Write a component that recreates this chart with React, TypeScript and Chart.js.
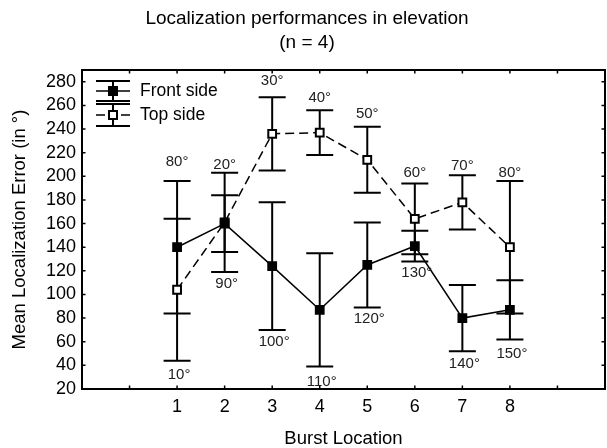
import { useEffect, useRef } from 'react';
import { Chart, registerables } from 'chart.js';

Chart.register(...registerables);

const categories = [1, 2, 3, 4, 5, 6, 7, 8];
const frontMean = [140, 160, 124, 87, 125, 141, 80, 87];
const frontErr = [56, 24, 54, 48, 36, 13, 28, 25];
const topMean = [104, 161, 236, 237, 214, 164, 178, 140];
const topErr = [60, 42, 31, 19, 28, 30, 23, 56];

const upperLabels = ['80°', '20°', '30°', '40°', '50°', '60°', '70°', '80°'];
const lowerLabels = ['10°', '90°', '100°', '110°', '120°', '130°', '140°', '150°'];
const upperLabelY = [212, 210, 281, 266, 253, 203, 209, 203];
const lowerLabelY = [32, 109, 60, 26, 79, 118, 41, 50];

const xTickLabels = [1, 2, 3, 4, 5, 6, 7, 8];
const xTickMarks = [0, 1, 2, 3, 4, 5, 6, 7, 8, 9];
const yTickValues = [20, 40, 60, 80, 100, 120, 140, 160, 180, 200, 220, 240, 260, 280];

const FONT = "'Liberation Sans', Arial, Helvetica, sans-serif";

const zeroPadding = () => ({ left: 0, right: 0, top: 0, bottom: 0 });

const errorBarPlugin = {
  id: 'errorBars',
  beforeDatasetsDraw(chart: any) {
    const { ctx, scales } = chart;
    const xs = scales.x;
    const ys = scales.y;
    const series = [
      { mean: frontMean, err: frontErr },
      { mean: topMean, err: topErr },
    ];
    ctx.save();
    ctx.strokeStyle = '#000';
    ctx.lineWidth = 2;
    ctx.setLineDash([]);
    const half = 13.5;
    series.forEach((s) => {
      categories.forEach((c, i) => {
        const x = xs.getPixelForValue(c);
        const y1 = ys.getPixelForValue(s.mean[i] + s.err[i]);
        const y2 = ys.getPixelForValue(s.mean[i] - s.err[i]);
        ctx.beginPath();
        ctx.moveTo(x, y1);
        ctx.lineTo(x, y2);
        ctx.moveTo(x - half, y1);
        ctx.lineTo(x + half, y1);
        ctx.moveTo(x - half, y2);
        ctx.lineTo(x + half, y2);
        ctx.stroke();
      });
    });
    ctx.restore();
  },
};

const annotationPlugin = {
  id: 'degreeLabels',
  afterDatasetsDraw(chart: any) {
    const { ctx, scales } = chart;
    ctx.save();
    ctx.fillStyle = '#222';
    ctx.font = `15px ${FONT}`;
    ctx.textAlign = 'center';
    ctx.textBaseline = 'middle';
    categories.forEach((c, i) => {
      const x = scales.x.getPixelForValue(c);
      ctx.fillText(upperLabels[i], x, scales.y.getPixelForValue(upperLabelY[i]));
      ctx.fillText(lowerLabels[i], x + 2, scales.y.getPixelForValue(lowerLabelY[i]));
    });
    ctx.restore();
  },
};

const framePlugin = {
  id: 'frame',
  afterDraw(chart: any) {
    const { ctx, chartArea, scales } = chart;
    const { left, right, top, bottom } = chartArea;
    ctx.save();
    ctx.strokeStyle = '#000';
    ctx.setLineDash([]);
    ctx.lineWidth = 1.5;
    const tl = 3.5;
    ctx.beginPath();
    xTickMarks.forEach((v) => {
      const x = scales.x.getPixelForValue(v);
      ctx.moveTo(x, bottom);
      ctx.lineTo(x, bottom - tl);
      ctx.moveTo(x, top);
      ctx.lineTo(x, top + tl);
    });
    yTickValues.forEach((v) => {
      const y = scales.y.getPixelForValue(v);
      ctx.moveTo(left, y);
      ctx.lineTo(left + tl, y);
      ctx.moveTo(right, y);
      ctx.lineTo(right - tl, y);
    });
    ctx.stroke();
    ctx.lineWidth = 2;
    ctx.strokeRect(left, top, right - left, bottom - top);
    ctx.restore();
  },
};

const legendPlugin = {
  id: 'customLegend',
  afterDraw(chart: any) {
    const { ctx, chartArea } = chart;
    const cx = chartArea.left + 31;
    const half = 17;
    const entries = [
      { label: 'Front side', y: chartArea.top + 21, err: 10, fill: '#000', dashed: false },
      { label: 'Top side', y: chartArea.top + 45, err: 11, fill: '#fff', dashed: true },
    ];
    ctx.save();
    entries.forEach((e) => {
      ctx.strokeStyle = '#000';
      ctx.lineWidth = 2;
      ctx.setLineDash([]);
      ctx.beginPath();
      ctx.moveTo(cx, e.y - e.err);
      ctx.lineTo(cx, e.y + e.err);
      ctx.moveTo(cx - half, e.y - e.err);
      ctx.lineTo(cx + half, e.y - e.err);
      ctx.moveTo(cx - half, e.y + e.err);
      ctx.lineTo(cx + half, e.y + e.err);
      ctx.stroke();
      ctx.lineWidth = 1.5;
      ctx.beginPath();
      if (e.dashed) {
        ctx.moveTo(cx - half, e.y);
        ctx.lineTo(cx - 8, e.y);
        ctx.moveTo(cx + 8, e.y);
        ctx.lineTo(cx + half, e.y);
      } else {
        ctx.moveTo(cx - half, e.y);
        ctx.lineTo(cx + half, e.y);
      }
      ctx.stroke();
      ctx.fillStyle = e.fill;
      ctx.lineWidth = 2;
      ctx.fillRect(cx - 4, e.y - 4, 8, 8);
      ctx.strokeRect(cx - 4, e.y - 4, 8, 8);
      ctx.fillStyle = '#000';
      ctx.font = `17.5px ${FONT}`;
      ctx.textAlign = 'left';
      ctx.textBaseline = 'middle';
      ctx.fillText(e.label, chartArea.left + 58, e.y);
    });
    ctx.restore();
  },
};

export default function App() {
  const canvasRef = useRef<HTMLCanvasElement | null>(null);

  useEffect(() => {
    if (!canvasRef.current) return;
    const chart = new Chart(canvasRef.current, {
      type: 'line',
      data: {
        datasets: [
          {
            label: 'Front side',
            data: categories.map((c, i) => ({ x: c, y: frontMean[i] })),
            borderColor: '#000',
            borderWidth: 1.5,
            backgroundColor: '#000',
            pointStyle: 'rect',
            pointRadius: 5.5,
            pointBorderWidth: 2,
            pointBackgroundColor: '#000',
            pointBorderColor: '#000',
            tension: 0,
          },
          {
            label: 'Top side',
            data: categories.map((c, i) => ({ x: c, y: topMean[i] })),
            borderColor: '#000',
            borderWidth: 1.5,
            borderDash: [9, 5],
            backgroundColor: '#fff',
            pointStyle: 'rect',
            pointRadius: 5.5,
            pointBorderWidth: 2,
            pointBackgroundColor: '#fff',
            pointBorderColor: '#000',
            tension: 0,
          },
        ],
      },
      options: {
        responsive: false,
        animation: false,
        layout: { autoPadding: false, padding: { left: 9, right: 2, top: 0, bottom: 0 } },
        plugins: {
          legend: { display: false },
          tooltip: { enabled: false },
          title: {
            display: true,
            text: ['Localization performances in elevation', '(n = 4)'],
            color: '#000',
            font: { family: FONT, size: 19, weight: 'normal', lineHeight: 24 / 19 },
            padding: { top: 7, bottom: 15 },
          },
        },
        scales: {
          x: {
            type: 'linear',
            min: -1,
            max: 10,
            afterBuildTicks: (s: any) => {
              s.ticks = xTickLabels.map((v) => ({ value: v }));
            },
            afterFit: (s: any) => {
              s.height = 59;
              s.paddingLeft = 0;
              s.paddingRight = 0;
              s.getPadding = zeroPadding;
            },
            grid: { display: false, drawTicks: false },
            border: { display: false },
            ticks: {
              color: '#000',
              font: { family: FONT, size: 18 },
              padding: 7,
              autoSkip: false,
              maxRotation: 0,
              callback: (v: any) => String(v),
            },
            title: {
              display: true,
              text: 'Burst Location',
              color: '#000',
              font: { family: FONT, size: 18.5, lineHeight: 1 },
              padding: 0,
            },
          },
          y: {
            type: 'linear',
            min: 20,
            max: 290,
            afterBuildTicks: (s: any) => {
              s.ticks = yTickValues.map((v) => ({ value: v }));
            },
            afterFit: (s: any) => {
              s.width = 73;
              s.paddingTop = 0;
              s.paddingBottom = 0;
              s.getPadding = zeroPadding;
            },
            grid: { display: false, drawTicks: false },
            border: { display: false },
            ticks: {
              color: '#000',
              font: { family: FONT, size: 18 },
              padding: 6,
              autoSkip: false,
              callback: (v: any) => String(v),
            },
            title: {
              display: true,
              text: 'Mean Localization Error (in °)',
              color: '#000',
              font: { family: FONT, size: 18.5, lineHeight: 1.2 },
              padding: 0,
            },
          },
        },
      },
      plugins: [errorBarPlugin, annotationPlugin, framePlugin, legendPlugin],
    } as any);
    return () => chart.destroy();
  }, []);

  return (
    <div style={{ position: 'fixed', left: 0, top: 0, width: 607, height: 448, background: '#fff' }}>
      <canvas ref={canvasRef} width={607} height={448} />
    </div>
  );
}
